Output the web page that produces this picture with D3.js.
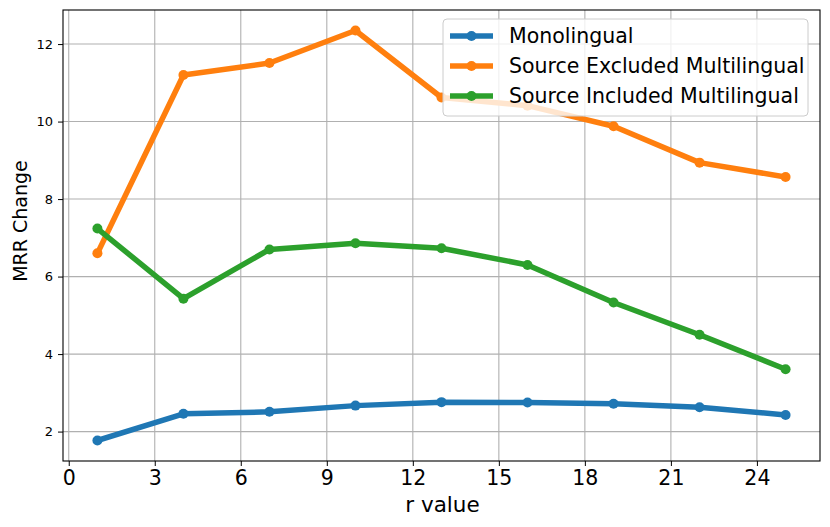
<!DOCTYPE html>
<html>
<head>
<meta charset="utf-8">
<script src="https://cdn.jsdelivr.net/npm/d3@7"></script>
<style>
  body { margin: 0; background: #fff; }
  svg { font-family: "DejaVu Sans", sans-serif; }
</style>
</head>
<body>
<div id="chart"></div>
<script>
'use strict';

// data
var rValues = [1, 4, 7, 10, 13, 16, 19, 22, 25];
var monolingual = [1.77, 2.46, 2.51, 2.67, 2.76, 2.75, 2.72, 2.63, 2.43];
var sourceExcluded = [6.60, 11.20, 11.51, 12.35, 10.62, 10.41, 9.88, 8.94, 8.57];
var sourceIncluded = [7.24, 5.43, 6.70, 6.86, 6.73, 6.30, 5.33, 4.50, 3.61];
var seriesNames = ['Monolingual', 'Source Excluded Multilingual', 'Source Included Multilingual'];
var seriesColors = ['#1f77b4', '#ff7f0e', '#2ca02c'];
var xTicks = [0, 3, 6, 9, 12, 15, 18, 21, 24];
var yTicks = [2, 4, 6, 8, 10, 12];

var width = 830, height = 527;
var margin = { top: 10, right: 10, bottom: 66, left: 63 };
var innerW = width - margin.left - margin.right;
var innerH = height - margin.top - margin.bottom;

var series = [monolingual, sourceExcluded, sourceIncluded].map(function (vals, i) {
    return {
        name: seriesNames[i],
        color: seriesColors[i],
        points: vals.map(function (v, j) { return { r: rValues[j], v: v }; })
    };
});

// matplotlib-like 5% padding
var xExt = d3.extent(rValues);
var xPad = (xExt[1] - xExt[0]) * 0.05;
var allY = [].concat(monolingual, sourceExcluded, sourceIncluded);
var yExt = d3.extent(allY);
var yPad = (yExt[1] - yExt[0]) * 0.05;

var x = d3.scaleLinear().domain([xExt[0] - xPad, xExt[1] + xPad]).range([0, innerW]);
var y = d3.scaleLinear().domain([yExt[0] - yPad, yExt[1] + yPad]).range([innerH, 0]);

var svg = d3.select('#chart').append('svg')
    .attr('width', width).attr('height', height);

var g = svg.append('g').attr('transform', 'translate(' + margin.left + ',' + margin.top + ')');

// grid
var grid = g.append('g').attr('class', 'grid');
grid.selectAll('.gx').data(xTicks).enter().append('line')
    .attr('x1', function (d) { return x(d); }).attr('x2', function (d) { return x(d); })
    .attr('y1', 0).attr('y2', innerH)
    .attr('stroke', '#b0b0b0').attr('stroke-width', 1.1);
grid.selectAll('.gy').data(yTicks).enter().append('line')
    .attr('y1', function (d) { return y(d); }).attr('y2', function (d) { return y(d); })
    .attr('x1', 0).attr('x2', innerW)
    .attr('stroke', '#b0b0b0').attr('stroke-width', 1.1);

// lines + markers
var line = d3.line().x(function (d) { return x(d.r); }).y(function (d) { return y(d.v); });

var groups = g.selectAll('.serie').data(series).enter().append('g').attr('class', 'serie');
groups.append('path')
    .attr('d', function (d) { return line(d.points); })
    .attr('fill', 'none')
    .attr('stroke', function (d) { return d.color; })
    .attr('stroke-width', 5.5)
    .attr('stroke-linejoin', 'round')
    .attr('stroke-linecap', 'square');
groups.selectAll('circle').data(function (d) {
    return d.points.map(function (p) { return { r: p.r, v: p.v, color: d.color }; });
}).enter().append('circle')
    .attr('cx', function (d) { return x(d.r); })
    .attr('cy', function (d) { return y(d.v); })
    .attr('r', 5)
    .attr('fill', function (d) { return d.color; });

// axes
var xAxis = g.append('g').attr('transform', 'translate(0,' + innerH + ')')
    .call(d3.axisBottom(x).tickValues(xTicks).tickSize(5).tickPadding(4));
xAxis.selectAll('text').attr('font-size', 20.5).attr('fill', '#000');

var yAxis = g.append('g')
    .call(d3.axisLeft(y).tickValues(yTicks).tickSize(5).tickPadding(5));
yAxis.selectAll('text').attr('font-size', 13).attr('fill', '#000');

[xAxis, yAxis].forEach(function (a) {
    a.select('.domain').remove();
    a.selectAll('line').attr('stroke', '#000').attr('stroke-width', 1);
    a.attr('font-family', '"DejaVu Sans", sans-serif');
});

// frame
g.append('rect').attr('width', innerW).attr('height', innerH)
    .attr('fill', 'none').attr('stroke', '#000').attr('stroke-width', 1.1);

// axis labels
svg.append('text')
    .attr('x', margin.left + innerW / 2 + 1).attr('y', 512)
    .attr('text-anchor', 'middle').attr('font-size', 21.5)
    .text('r value');
svg.append('text')
    .attr('transform', 'translate(27,221) rotate(-90)')
    .attr('text-anchor', 'middle').attr('font-size', 19)
    .text('MRR Change');

// legend
var legend = svg.append('g').attr('transform', 'translate(443,19)');
legend.append('rect')
    .attr('width', 365).attr('height', 97).attr('rx', 4)
    .attr('fill', '#fff').attr('fill-opacity', 0.8)
    .attr('stroke', '#cccccc').attr('stroke-width', 1);
var items = legend.selectAll('.item').data(series).enter().append('g')
    .attr('transform', function (d, i) { return 'translate(0,' + (17 + i * 30) + ')'; });
items.append('line')
    .attr('x1', 7).attr('x2', 50).attr('y1', 0).attr('y2', 0)
    .attr('stroke', function (d) { return d.color; }).attr('stroke-width', 5.5);
items.append('circle').attr('cx', 28.5).attr('cy', 0).attr('r', 5)
    .attr('fill', function (d) { return d.color; });
items.append('text')
    .attr('x', 66).attr('y', 0).attr('dy', '0.35em')
    .attr('font-size', 20.5)
    .text(function (d) { return d.name; });
</script>
</body>
</html>
